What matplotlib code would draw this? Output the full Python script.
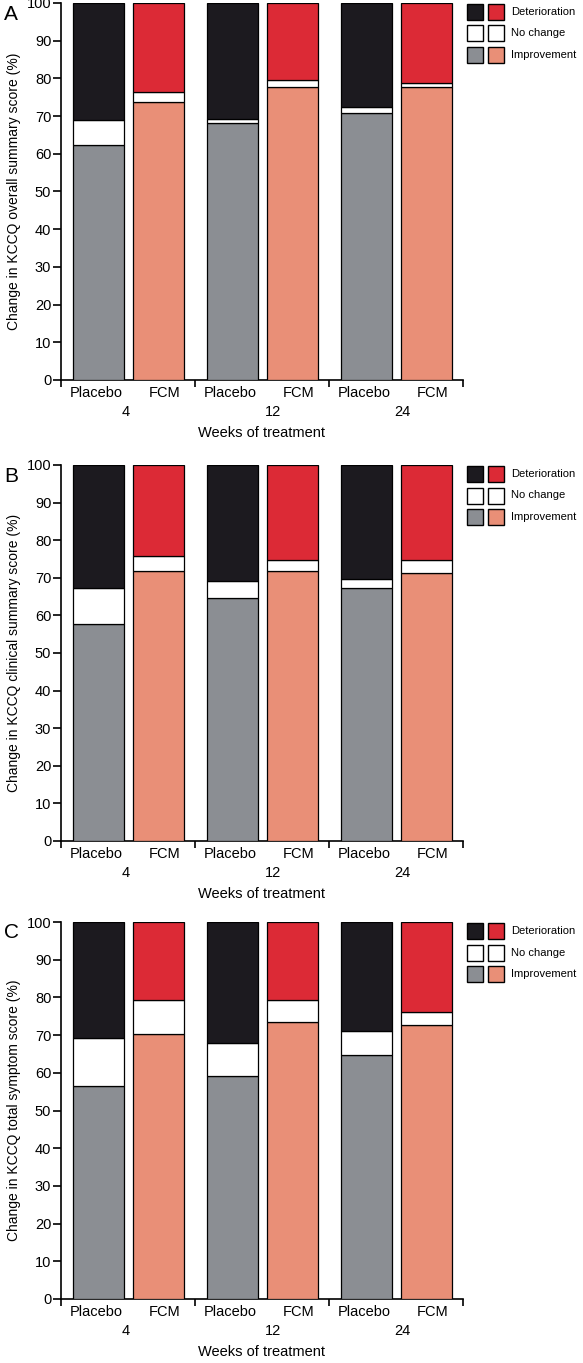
import matplotlib
matplotlib.use("Agg")
import matplotlib.pyplot as plt
from matplotlib.patches import Rectangle
from matplotlib.transforms import blended_transform_factory

plt.rcParams['font.family'] = ['Liberation Sans', 'DejaVu Sans']

weeks = ["4", "12", "24"]
arms = ["Placebo", "FCM"]
categories = ["Deterioration", "No change", "Improvement"]

# Improvement / No change per bar (order: Placebo4, FCM4, Placebo12, FCM12, Placebo24, FCM24)
overall_improve = [62.3, 73.8, 68.2, 77.6, 70.8, 77.6]
overall_nochange = [6.6, 2.7, 1.0, 1.9, 1.6, 1.1]
clinical_improve = [57.7, 71.8, 64.6, 71.8, 67.3, 71.2]
clinical_nochange = [9.5, 4.0, 4.5, 3.0, 2.3, 3.6]
symptom_improve = [56.5, 70.2, 59.1, 73.4, 64.6, 72.8]
symptom_nochange = [12.7, 9.0, 8.9, 5.8, 6.4, 3.3]

ylabels = ["Change in KCCQ overall summary score (%)",
           "Change in KCCQ clinical summary score (%)",
           "Change in KCCQ total symptom score (%)"]
panel_letters = ["A", "B", "C"]

col_black = "#1c1a1f"
col_red = "#dc2a36"
col_grey = "#8b8e93"
col_salmon = "#e98f77"
col_white = "#ffffff"

W, H = 583, 1363
fig = plt.figure(figsize=(W / 100, H / 100), dpi=100)

panels = [(overall_improve, overall_nochange),
          (clinical_improve, clinical_nochange),
          (symptom_improve, symptom_nochange)]
tops_px = [3, 465, 922]
bots_px = [380, 841, 1299]
left_px, right_px = 61, 463

bar_w = 0.38
offsets = [0.28, 0.725]
label_offsets = [0.26, 0.77]

for p, ((imp, nc), top, bot) in enumerate(zip(panels, tops_px, bots_px)):
    ax = fig.add_axes([left_px / W, 1 - bot / H, (right_px - left_px) / W, (bot - top) / H])
    xs, lxs, imps, ncs, dets, cimp, cdet = [], [], [], [], [], [], []
    for g in range(len(weeks)):
        for a in range(len(arms)):
            i = g * 2 + a
            xs.append(g + offsets[a])
            lxs.append(g + label_offsets[a])
            imps.append(imp[i])
            ncs.append(nc[i])
            dets.append(100 - imp[i] - nc[i])
            cimp.append(col_grey if a == 0 else col_salmon)
            cdet.append(col_black if a == 0 else col_red)
    kw = dict(width=bar_w, edgecolor="black", linewidth=0.9, zorder=3)
    ax.bar(xs, imps, color=cimp, **kw)
    ax.bar(xs, ncs, bottom=imps, color=col_white, **kw)
    ax.bar(xs, dets, bottom=[a + b for a, b in zip(imps, ncs)], color=cdet, **kw)

    ax.set_xlim(0, 3)
    ax.set_ylim(0, 100)
    ax.set_yticks(range(0, 101, 10))
    for s in ["top", "right"]:
        ax.spines[s].set_visible(False)
    ax.spines["left"].set_linewidth(1.2)
    ax.spines["bottom"].set_linewidth(1.2)
    ax.tick_params(axis="y", labelsize=10.5, length=6, width=1.2, pad=1)
    ax.set_xticks([0, 1, 2, 3])
    ax.set_xticklabels([])
    ax.tick_params(axis="x", which="major", length=5, width=1.2)
    ax.set_xticks(lxs, minor=True)
    ax.set_xticklabels(arms * 3, minor=True)
    ax.tick_params(axis="x", which="minor", length=0, labelsize=10.5, pad=4)
    trans = blended_transform_factory(ax.transData, ax.transAxes)
    for g, wk in enumerate(weeks):
        ax.text(g + [0.48, 0.58, 0.55][g], -0.085, wk, transform=trans,
                ha="center", va="center", fontsize=10.5)
    ax.set_xlabel("Weeks of treatment", fontsize=10.5, labelpad=19)
    ax.set_ylabel(ylabels[p], fontsize=10, labelpad=4)

    fig.text(4 / W, 1 - (top + 11) / H, panel_letters[p], fontsize=15,
             ha="left", va="center")

    # legend
    rows = [(col_black, col_red), (col_white, col_white), (col_grey, col_salmon)]
    hpx = bot - top
    sq = 16
    for r, ((c1, c2), lab) in enumerate(zip(rows, categories)):
        yc = 9 + r * 21.5
        y0 = 1 - (yc + sq / 2) / hpx
        for k, c in enumerate((c1, c2)):
            x0 = (467 + k * 21 - left_px) / (right_px - left_px)
            ax.add_patch(Rectangle((x0, y0), sq / (right_px - left_px), sq / hpx,
                                   transform=ax.transAxes, facecolor=c,
                                   edgecolor="black", linewidth=1.0, clip_on=False))
        ax.text((511 - left_px) / (right_px - left_px), 1 - yc / hpx, lab,
                transform=ax.transAxes, fontsize=8, ha="left", va="center")

fig.savefig("out.png", dpi=100)
